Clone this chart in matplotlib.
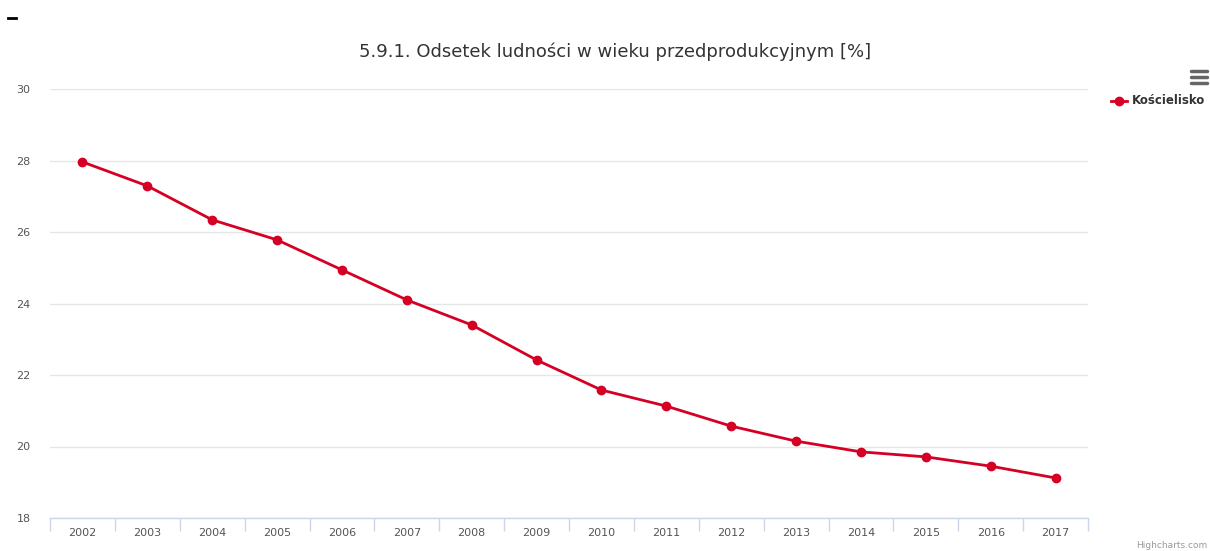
import matplotlib
matplotlib.use("Agg")
import matplotlib.pyplot as plt
import numpy as np

years = ["2002", "2003", "2004", "2005", "2006", "2007", "2008", "2009",
         "2010", "2011", "2012", "2013", "2014", "2015", "2016", "2017"]
values = [27.96, 27.29, 26.34, 25.78, 24.94, 24.10, 23.40, 22.42,
          21.58, 21.13, 20.57, 20.15, 19.85, 19.71, 19.45, 19.12]
series_name = "Kościelisko"
title = "5.9.1. Odsetek ludności w wieku przedprodukcyjnym [%]"
y_ticks = [18, 20, 22, 24, 26, 28, 30]

plt.rcParams['font.family'] = ['DejaVu Sans']

fig = plt.figure(figsize=(12.1, 5.51), dpi=100)
ax = fig.add_axes([50/1210, 33/551, 1038/1210, 429/551])

x = np.arange(len(years))
color = '#d50023'
ax.plot(x, values, color=color, lw=2, marker='o', markersize=6, zorder=3,
        solid_joinstyle='round')

ax.set_xlim(-0.5, len(years) - 0.5)
ax.set_ylim(18, 30)
ax.set_yticks(y_ticks)
ax.yaxis.grid(True, color='#e6e6e6', lw=1)
ax.set_axisbelow(True)
for s in ['top', 'right', 'left']:
    ax.spines[s].set_visible(False)
ax.spines['bottom'].set_color('#ccd6eb')
ax.spines['bottom'].set_linewidth(1)

ax.set_xticks(x)
ax.set_xticklabels(years)
ax.tick_params(axis='x', length=0, pad=7, labelsize=8, labelcolor='#555555')
ax.set_xticks(np.arange(-0.5, len(years) + 0.5, 1), minor=True)
ax.tick_params(axis='x', which='minor', length=9, color='#ccd6eb', width=1)
ax.tick_params(axis='y', length=0, pad=14, labelsize=8, labelcolor='#555555')
for lab in ax.get_yticklabels():
    lab.set_horizontalalignment('right')

fig.text(615/1210, 1 - 52/551, title, ha='center', va='center',
         fontsize=13, color='#333333')

# legend
ly = 1 - 101/551
fig.add_artist(plt.Line2D([1111/1210, 1127/1210], [ly, ly], color=color, lw=2,
                          transform=fig.transFigure))
fig.add_artist(plt.Line2D([1119/1210], [ly], color=color, marker='o', markersize=6,
                          transform=fig.transFigure))
fig.text(1132/1210, ly, series_name, ha='left', va='center', fontsize=8.5,
         fontweight='bold', color='#333333')

# hamburger menu
for dy in [71, 77, 83]:
    fig.add_artist(plt.Line2D([1191/1210, 1207/1210], [1 - dy/551, 1 - dy/551],
                              color='#666666', lw=2.5, solid_capstyle='round',
                              transform=fig.transFigure))

# small dash top-left
fig.add_artist(plt.Line2D([8/1210, 16/1210], [1 - 18/551, 1 - 18/551],
                          color='#000000', lw=2, transform=fig.transFigure))

fig.text(1207/1210, 1 - 546/551, "Highcharts.com", ha='right', va='center',
         fontsize=6.5, color='#999999')

fig.savefig("out.png", dpi=100)
